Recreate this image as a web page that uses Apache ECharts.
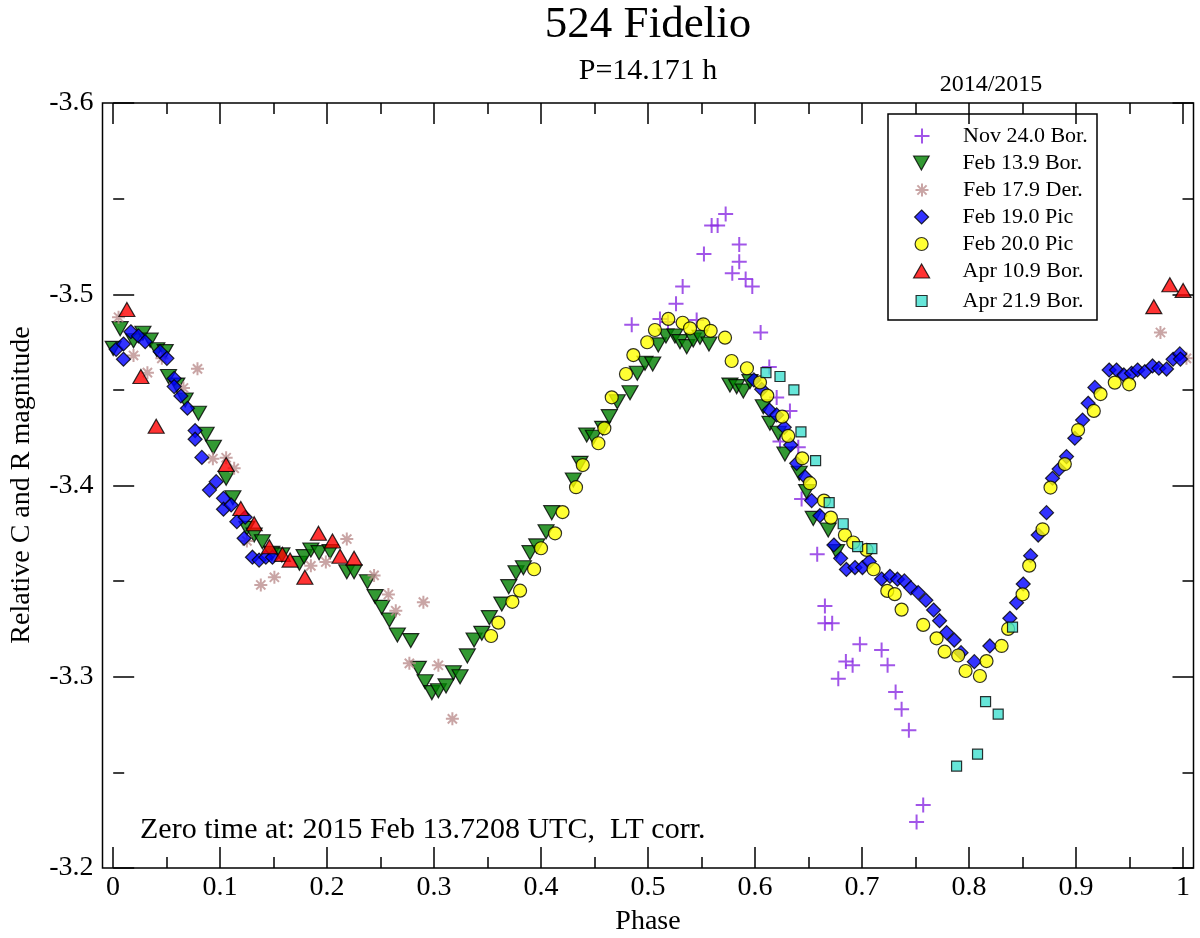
<!DOCTYPE html>
<html>
<head>
<meta charset="utf-8">
<script src="https://cdn.jsdelivr.net/npm/echarts@6/dist/echarts.min.js"></script>
<style>html,body{margin:0;padding:0;background:#fff}#c{width:1200px;height:938px}</style>
</head>
<body>
<div id="c"></div>
<script>
// ---- data: [phase, relative magnitude] ----
const nov24 = [[0.4848,-3.484],[0.5112,-3.487],[0.5187,-3.4855],[0.5262,-3.495],[0.5324,-3.504],[0.5455,-3.4865],[0.5523,-3.521],[0.5595,-3.536],[0.5651,-3.536],[0.5726,-3.542],[0.5788,-3.511],[0.5853,-3.526],[0.5853,-3.517],[0.5913,-3.508],[0.5975,-3.504],[0.6053,-3.480],[0.6134,-3.462],[0.6203,-3.446],[0.6234,-3.423],[0.6327,-3.439],[0.6405,-3.420],[0.6436,-3.393],[0.6582,-3.364],[0.6654,-3.337],[0.6654,-3.328],[0.6722,-3.328],[0.6779,-3.299],[0.685,-3.308],[0.6913,-3.306],[0.6981,-3.317],[0.7184,-3.314],[0.724,-3.306],[0.7315,-3.292],[0.7371,-3.283],[0.7439,-3.272],[0.7511,-3.224],[0.7573,-3.233]];
const feb139 = [[0.0,-3.4717],[0.0065,-3.482],[0.019,-3.4757],[0.0278,-3.4796],[0.0346,-3.476],[0.0408,-3.471],[0.0486,-3.470],[0.0517,-3.457],[0.0595,-3.4525],[0.0673,-3.4447],[0.0797,-3.4378],[0.0869,-3.4268],[0.0937,-3.420],[0.1056,-3.4038],[0.1119,-3.3936],[0.125,-3.3776],[0.1318,-3.3741],[0.1395,-3.3706],[0.1483,-3.3645],[0.1577,-3.3637],[0.1741,-3.3593],[0.1785,-3.3628],[0.1848,-3.3663],[0.1925,-3.3649],[0.2028,-3.3654],[0.2184,-3.3549],[0.2252,-3.3549],[0.2377,-3.3497],[0.2449,-3.3419],[0.2511,-3.3363],[0.2582,-3.3297],[0.2657,-3.3218],[0.2782,-3.3189],[0.2853,-3.3044],[0.2916,-3.2974],[0.2979,-3.2917],[0.304,-3.2927],[0.3112,-3.2952],[0.318,-3.3021],[0.3243,-3.300],[0.3311,-3.3109],[0.3374,-3.3192],[0.3446,-3.3227],[0.3517,-3.3309],[0.3633,-3.338],[0.3698,-3.3471],[0.3766,-3.3544],[0.3835,-3.357],[0.3897,-3.3649],[0.396,-3.3684],[0.4047,-3.3758],[0.41,-3.3858],[0.4302,-3.4029],[0.4364,-3.4116],[0.4427,-3.4264],[0.4489,-3.4252],[0.4576,-3.4299],[0.4638,-3.436],[0.4713,-3.4438],[0.4832,-3.4485],[0.49,-3.4587],[0.4972,-3.4639],[0.5044,-3.4635],[0.5096,-3.4735],[0.5168,-3.4782],[0.5252,-3.4782],[0.5299,-3.4752],[0.5362,-3.4726],[0.5423,-3.4761],[0.5486,-3.4775],[0.557,-3.474],[0.5766,-3.4525],[0.5829,-3.4517],[0.5891,-3.4494],[0.5953,-3.4543],[0.6078,-3.4412],[0.614,-3.4325],[0.6218,-3.4273],[0.628,-3.4165],[0.6414,-3.4064],[0.6483,-3.3968],[0.6545,-3.3828],[0.6685,-3.3767],[0.6763,-3.3654]];
const feb179 = [[0.005,-3.488],[0.019,-3.468],[0.032,-3.459],[0.0455,-3.4665],[0.0657,-3.451],[0.0788,-3.461],[0.0932,-3.414],[0.1056,-3.4145],[0.1131,-3.409],[0.125,-3.371],[0.138,-3.348],[0.1507,-3.352],[0.1848,-3.358],[0.1988,-3.360],[0.2184,-3.372],[0.2439,-3.353],[0.2573,-3.343],[0.2642,-3.3345],[0.29,-3.339],[0.2769,-3.307],[0.304,-3.306],[0.3171,-3.278],[0.9791,-3.480],[1.0034,-3.4665]];
const feb190 = [[0.0028,-3.4712],[0.0096,-3.474],[0.0096,-3.466],[0.0165,-3.4804],[0.0236,-3.4782],[0.0299,-3.4752],[0.0439,-3.470],[0.0502,-3.4665],[0.057,-3.456],[0.057,-3.4517],[0.0633,-3.4468],[0.0694,-3.4404],[0.0766,-3.4287],[0.0766,-3.4242],[0.0829,-3.4147],[0.09,-3.3976],[0.0963,-3.402],[0.1031,-3.3933],[0.1031,-3.3876],[0.1103,-3.3898],[0.1156,-3.3811],[0.1234,-3.3834],[0.1224,-3.3724],[0.1302,-3.3625],[0.1364,-3.361],[0.1427,-3.3625],[0.1489,-3.3625],[0.599,-3.4552],[0.6063,-3.4503],[0.6134,-3.4395],[0.6203,-3.4369],[0.6274,-3.4304],[0.6334,-3.4212],[0.639,-3.4116],[0.6467,-3.4046],[0.653,-3.3921],[0.6607,-3.3842],[0.6738,-3.3689],[0.6801,-3.3619],[0.6855,-3.3561],[0.6935,-3.3571],[0.7005,-3.3571],[0.7068,-3.3602],[0.7184,-3.3511],[0.7262,-3.3525],[0.7332,-3.351],[0.7397,-3.3501],[0.7458,-3.3465],[0.7526,-3.344],[0.7598,-3.340],[0.767,-3.3349],[0.7726,-3.3293],[0.7792,-3.3231],[0.7863,-3.3192],[0.7927,-3.3126],[0.8051,-3.3079],[0.8196,-3.3161],[0.8383,-3.3306],[0.8446,-3.3387],[0.8508,-3.3485],[0.8577,-3.3633],[0.8648,-3.3741],[0.8726,-3.3858],[0.8782,-3.4038],[0.8844,-3.4086],[0.8913,-3.4151],[0.899,-3.4247],[0.9063,-3.4342],[0.9115,-3.443],[0.9178,-3.4513],[0.9311,-3.4604],[0.938,-3.4604],[0.9449,-3.4578],[0.952,-3.4587],[0.9577,-3.4604],[0.9645,-3.4595],[0.9717,-3.4625],[0.9776,-3.4613],[0.9848,-3.4609],[0.9909,-3.466],[0.9972,-3.4688],[0.9978,-3.4661]];
const feb200 = [[0.3533,-3.3213],[0.3601,-3.3283],[0.3732,-3.3392],[0.3804,-3.345],[0.3935,-3.3562],[0.400,-3.3672],[0.4131,-3.375],[0.4201,-3.3861],[0.4327,-3.3991],[0.439,-3.4107],[0.4536,-3.4221],[0.4592,-3.4299],[0.4661,-3.4461],[0.4794,-3.4583],[0.4863,-3.4682],[0.4993,-3.4749],[0.5065,-3.4813],[0.519,-3.4871],[0.5324,-3.4851],[0.5393,-3.4822],[0.5517,-3.4843],[0.5586,-3.4809],[0.572,-3.4773],[0.5782,-3.4651],[0.5925,-3.4613],[0.6047,-3.4539],[0.6115,-3.447],[0.6255,-3.436],[0.6311,-3.4259],[0.6442,-3.4142],[0.6514,-3.4012],[0.6645,-3.3921],[0.671,-3.3832],[0.6841,-3.3741],[0.6919,-3.3702],[0.7044,-3.3663],[0.7109,-3.3562],[0.7237,-3.3449],[0.7307,-3.3432],[0.7371,-3.3351],[0.7573,-3.3271],[0.7698,-3.3201],[0.7773,-3.3131],[0.790,-3.3111],[0.7969,-3.303],[0.8103,-3.3004],[0.8165,-3.3082],[0.8306,-3.3161],[0.8367,-3.325],[0.8502,-3.3431],[0.8564,-3.3581],[0.8689,-3.3771],[0.8763,-3.3989],[0.8897,-3.4112],[0.9021,-3.429],[0.9168,-3.439],[0.9231,-3.4478],[0.9364,-3.4538],[0.9498,-3.4529]];
const apr109 = [[0.0128,-3.492],[0.0259,-3.457],[0.0402,-3.431],[0.1056,-3.411],[0.1193,-3.388],[0.1318,-3.380],[0.146,-3.368],[0.1582,-3.364],[0.1654,-3.361],[0.1792,-3.352],[0.1919,-3.375],[0.205,-3.371],[0.2121,-3.363],[0.2252,-3.362],[0.9729,-3.4935],[0.9879,-3.505],[1.0003,-3.502]];
const apr219 = [[0.6103,-3.459],[0.6234,-3.457],[0.6364,-3.450],[0.643,-3.428],[0.6567,-3.413],[0.6694,-3.391],[0.6825,-3.380],[0.696,-3.368],[0.7093,-3.367],[0.8408,-3.326],[0.8156,-3.287],[0.8274,-3.2805],[0.8081,-3.2595],[0.7885,-3.2533]];
const xTickValues = [0, 1];           // phase axis range
const yTickValues = [-3.6, -3.2];     // magnitude axis range
const seriesNames = ['Nov 24.0 Bor.','Feb 13.9 Bor.','Feb 17.9 Der.','Feb 19.0 Pic','Feb 20.0 Pic','Apr 10.9 Bor.','Apr 21.9 Bor.'];

const FONT = '"Liberation Serif", "Times New Roman", serif';
const chart = echarts.init(document.getElementById('c'));
const tick = {inside:true, length:21, lineStyle:{color:'#000', width:1.5}};
const minor = {show:true, splitNumber:2, length:11, lineStyle:{color:'#000', width:1.5}};

const PLUS = 'path://M5,0V10M0,5H10';
const STAR = 'path://M0,5H10M5,0V10M1.46,1.46L8.54,8.54M1.46,8.54L8.54,1.46';
const DOWN = 'path://M0,0L10,0L5,9Z';

const defs = [
  {data:nov24, symbol:PLUS, size:15, itemStyle:{color:'rgba(0,0,0,0)', borderColor:'#8a2be2', borderWidth:2}},
  {data:feb139, symbol:DOWN, size:[16,14], itemStyle:{color:'#008000', borderColor:'#000', borderWidth:1.2}},
  {data:feb179, symbol:STAR, size:13, itemStyle:{color:'rgba(0,0,0,0)', borderColor:'#bc8f8f', borderWidth:2}},
  {data:feb190, symbol:'diamond', size:14, itemStyle:{color:'#0000ff', borderColor:'#000', borderWidth:1.2}},
  {data:feb200, symbol:'circle', size:13, itemStyle:{color:'#ffff00', borderColor:'#000', borderWidth:1.2}},
  {data:apr109, symbol:'triangle', size:[16,14], itemStyle:{color:'#ff0000', borderColor:'#000', borderWidth:1.2}},
  {data:apr219, symbol:'rect', size:10, itemStyle:{color:'#40e0d0', borderColor:'#000', borderWidth:1.2}}
];
const legendSizes = [[15,15],[16,14],[13,13],[14,14],[13,13],[16,14],[11,11]];

const series = defs.map((d,i)=>({
  name: seriesNames[i], type:'scatter', xAxisIndex:0, yAxisIndex:0,
  data:d.data, symbol:d.symbol, symbolSize:d.size, itemStyle:d.itemStyle,
  emphasis:{disabled:true}, animation:false
}));

chart.setOption({
  backgroundColor:'#fff',
  animation:false,
  grid:[
    {left:102.5, top:103, width:1091, height:765, show:true, borderColor:'#000', borderWidth:1.5, backgroundColor:'transparent'},
    {left:113, top:103, width:1070, height:765, show:false}
  ],
  xAxis:[
    {gridIndex:0, type:'value', min:-0.01, max:1.01, show:false},
    {gridIndex:1, type:'value', min:xTickValues[0], max:xTickValues[1], interval:0.1, position:'bottom',
      axisLine:{show:false}, axisTick:tick, minorTick:minor, splitLine:{show:false}, minorSplitLine:{show:false},
      axisLabel:{fontSize:28, fontFamily:FONT, color:'#000', margin:6}},
    {gridIndex:1, type:'value', min:xTickValues[0], max:xTickValues[1], interval:0.1, position:'top',
      axisLine:{show:false}, axisTick:tick, minorTick:minor, splitLine:{show:false}, axisLabel:{show:false}}
  ],
  yAxis:[
    {gridIndex:0, type:'value', min:yTickValues[0], max:yTickValues[1], interval:0.1, inverse:true, position:'left',
      axisLine:{show:false}, axisTick:tick, minorTick:minor, splitLine:{show:false},
      axisLabel:{fontSize:28, fontFamily:FONT, color:'#000', margin:9}},
    {gridIndex:0, type:'value', min:yTickValues[0], max:yTickValues[1], interval:0.1, inverse:true, position:'right',
      axisLine:{show:false}, axisTick:tick, minorTick:minor, splitLine:{show:false}, axisLabel:{show:false}},
    {gridIndex:1, type:'value', min:0, max:1, show:false}
  ],
  legend: seriesNames.map((n,i)=>({
    orient:'vertical', left:925 - legendSizes[i][0]/2 - 4, top:136 + i*27 - 11 + (i===6?3:0), selectedMode:false,
    padding:0, itemWidth:legendSizes[i][0], itemHeight:legendSizes[i][1], itemGap:5,
    itemStyle:{borderWidth:(i===0||i===2)?2:1.2},
    textStyle:{fontSize:22, fontFamily:FONT, color:'#000', lineHeight:22, padding:[0,0,0, 962 - (925 - legendSizes[i][0]/2 - 4) - legendSizes[i][0] - 5]},
    data:[n]
  })),
  graphic:[
    {type:'rect', shape:{x:888, y:114, width:209, height:206}, style:{fill:'#fff', stroke:'#000', lineWidth:1.5}, z:-1, silent:true},
    {type:'text', x:648, y:25, style:{text:'524 Fidelio', fontSize:45, fontFamily:FONT, fill:'#000', align:'center', verticalAlign:'middle'}},
    {type:'text', x:648, y:71, style:{text:'P=14.171 h', fontSize:30, fontFamily:FONT, fill:'#000', align:'center', verticalAlign:'middle'}},
    {type:'text', x:991, y:85, style:{text:'2014/2015', fontSize:24, fontFamily:FONT, fill:'#000', align:'center', verticalAlign:'middle'}},
    {type:'text', x:648, y:922, style:{text:'Phase', fontSize:28, fontFamily:FONT, fill:'#000', align:'center', verticalAlign:'middle'}},
    {type:'text', x:22, y:485, rotation:Math.PI/2, style:{text:'Relative C and R magnitude', fontSize:28, fontFamily:FONT, fill:'#000', align:'center', verticalAlign:'middle'}},
    {type:'text', x:140, y:830, style:{text:'Zero time at: 2015 Feb 13.7208 UTC,  LT corr.', fontSize:30, fontFamily:FONT, fill:'#000', align:'left', verticalAlign:'middle'}}
  ],
  series: series
});
</script>
</body>
</html>
